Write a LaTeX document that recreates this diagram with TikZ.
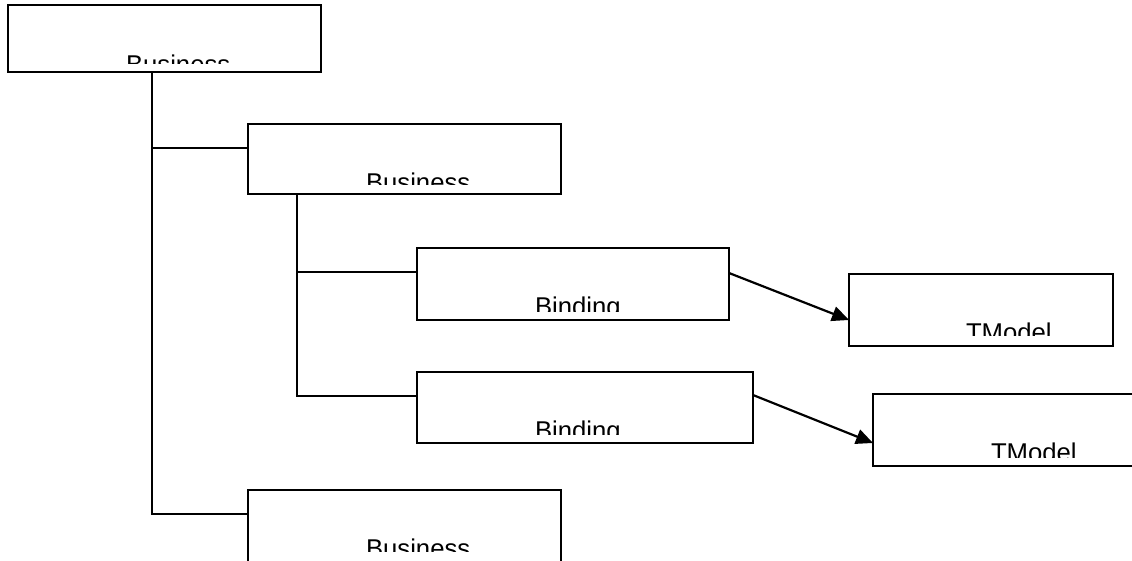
\documentclass[tikz,border=0pt]{standalone}
\usepackage{fontspec}
\setmainfont{Liberation Sans}
\usetikzlibrary{arrows.meta}
\begin{document}
\begin{tikzpicture}[x=1pt,y=-1pt,
  box/.style={draw=black,line width=2pt,rectangle,inner sep=0pt,outer sep=0pt,anchor=north west,fill=white},
  lbl/.style={inner sep=0pt,outer sep=0pt,anchor=base west,font=\fontsize{25.7}{30}\selectfont},
  tree/.style={draw=black,line width=1.8pt},
  arr/.style={draw=black,line width=2.2pt,-{Triangle[length=17pt,width=15pt]}}]
\clip (0,0) rectangle (1132,561);
\fill[white] (0,0) rectangle (1132,561);
% boxes
\node[box,minimum width=313pt,minimum height=67pt] (b1) at (8,5) {};
\node[box,minimum width=313pt,minimum height=70pt] (b2) at (248,124) {};
\node[box,minimum width=312pt,minimum height=72pt] (d1) at (417,248) {};
\node[box,minimum width=336pt,minimum height=71pt] (d2) at (417,372) {};
\node[box,minimum width=264pt,minimum height=72pt] (t1) at (849,274) {};
\node[box,minimum width=280pt,minimum height=72pt] (t2) at (873,394) {};
\node[box,minimum width=313pt,minimum height=110pt] (b3) at (248,490) {};
% clipped labels
\begin{scope}\clip (b1.north west) rectangle (321,64);
\node[lbl] (lb1) at (126,73.4) {Business};\end{scope}
\begin{scope}\clip (b2.north west) rectangle (561,185);
\node[lbl] (lb2) at (366,191.4) {Business};\end{scope}
\begin{scope}\clip (d1.north west) rectangle (729,311);
\node[lbl] (ld1) at (535,315.4) {Binding};\end{scope}
\begin{scope}\clip (d2.north west) rectangle (753,434);
\node[lbl] (ld2) at (535,439.4) {Binding};\end{scope}
\begin{scope}\clip (t1.north west) rectangle (1113,335);
\node[lbl] (lt1) at (966,341.4) {TModel};\end{scope}
\begin{scope}\clip (t2.north west) rectangle (1140,457);
\node[lbl] (lt2) at (991,461.4) {TModel};\end{scope}
\begin{scope}\clip (b3.north west) rectangle (561,551);
\node[lbl] (lb3) at (366,557.4) {Business};\end{scope}
% tree connectors
\draw[tree] ([xshift=144pt]b1.south west) |- ([yshift=-24pt]b2.north west);
\draw[tree] ([xshift=144pt]b1.south west) |- ([yshift=-24pt]b3.north west);
\draw[tree] ([xshift=49pt]b2.south west) |- ([yshift=-24pt]d1.north west);
\draw[tree] ([xshift=49pt]b2.south west) |- ([yshift=-24pt]d2.north west);
% arrows
\draw[arr] ([yshift=-25pt]d1.north east) -- ([yshift=26pt]t1.south west);
\draw[arr] ([yshift=-23pt]d2.north east) -- ([yshift=23pt]t2.south west);
\end{tikzpicture}
\end{document}
